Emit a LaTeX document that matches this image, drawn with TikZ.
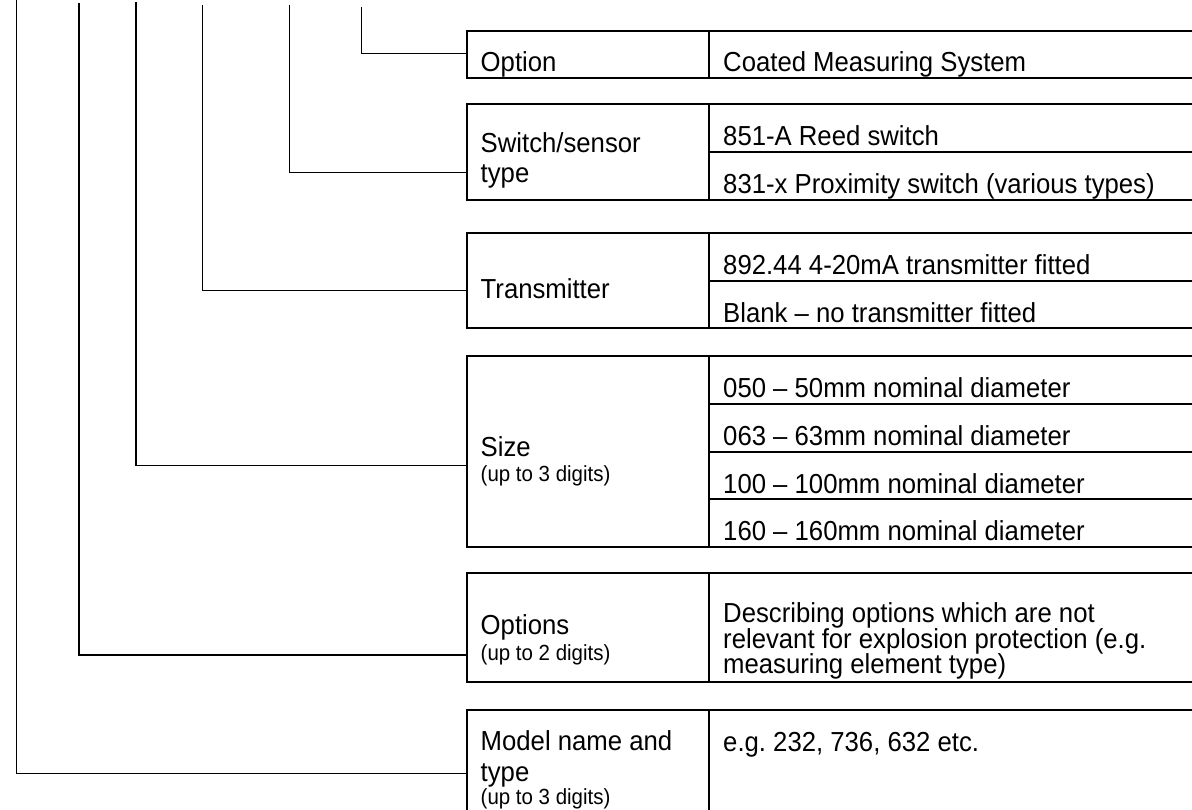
\documentclass[tikz,border=0pt]{standalone}
\usepackage{fontspec}
\setmainfont[FakeStretch=0.935]{Liberation Sans}
\frenchspacing
\begin{document}
\begin{tikzpicture}[x=1pt,y=-1pt,
  cell/.style={draw, line width=2pt, rectangle, inner sep=0pt, outer sep=0pt, anchor=north west},
  conn/.style={line width=1.5pt},
  lbl/.style={anchor=base west, inner sep=0pt, font=\fontsize{27.5}{30}\selectfont},
  sml/.style={anchor=base west, inner sep=0pt, font=\fontsize{21.9}{24}\selectfont}]
\useasboundingbox (0,0) rectangle (1192,810);
\clip (0,0) rectangle (1192,810);

% ---- Option box
\node[cell, minimum width=242.3pt, minimum height=47pt] (optL) at (466.7,30.7) {};
\node[cell, minimum width=560pt, minimum height=47pt] (optR) at (709,30.7) {};
\node[lbl] (optT) at (480.5,71.5) {Option};
\node[lbl] (optV) at (723,71.5) {Coated Measuring System};

% ---- Switch/sensor box
\node[cell, minimum width=242.3pt, minimum height=96pt] (swL) at (466.7,104) {};
\node[cell, minimum width=560pt, minimum height=47.7pt] (swR1) at (709,104) {};
\node[cell, minimum width=560pt, minimum height=48.3pt] (swR2) at (709,151.7) {};
\node[lbl] (swT1) at (480.5,153) {Switch/sensor};
\node[lbl] (swT2) at (480.5,183) {type};
\node[lbl] (swV1) at (723,145.5) {851-A Reed switch};
\node[lbl] (swV2) at (723,193.5) {831-x Proximity switch (various types)};

% ---- Transmitter box
\node[cell, minimum width=242.3pt, minimum height=95pt] (trL) at (466.7,233.3) {};
\node[cell, minimum width=560pt, minimum height=47.4pt] (trR1) at (709,233.3) {};
\node[cell, minimum width=560pt, minimum height=47.6pt] (trR2) at (709,280.7) {};
\node[lbl] (trT) at (480.5,299) {Transmitter};
\node[lbl] (trV1) at (723,274.8) {892.44 4-20mA transmitter fitted};
\node[lbl] (trV2) at (723,322.2) {Blank -- no transmitter fitted};

% ---- Size box
\node[cell, minimum width=242.3pt, minimum height=191.6pt] (szL) at (466.7,355.7) {};
\node[cell, minimum width=560pt, minimum height=48pt] (szR1) at (709,355.7) {};
\node[cell, minimum width=560pt, minimum height=48pt] (szR2) at (709,403.7) {};
\node[cell, minimum width=560pt, minimum height=47.6pt] (szR3) at (709,451.7) {};
\node[cell, minimum width=560pt, minimum height=48pt] (szR4) at (709,499.3) {};
\node[lbl] (szT1) at (480.5,456.7) {Size};
\node[sml] (szT2) at (480.5,481.7) {(up to 3 digits)};
\node[lbl] (szV1) at (723,397.2) {050 -- 50mm nominal diameter};
\node[lbl] (szV2) at (723,445.2) {063 -- 63mm nominal diameter};
\node[lbl] (szV3) at (723,493.2) {100 -- 100mm nominal diameter};
\node[lbl] (szV4) at (723,540.8) {160 -- 160mm nominal diameter};

% ---- Options box
\node[cell, minimum width=242.3pt, minimum height=109pt] (opL) at (466.7,573.3) {};
\node[cell, minimum width=560pt, minimum height=109pt] (opR) at (709,573.3) {};
\node[lbl] (opT1) at (480.5,634) {Options};
\node[sml] (opT2) at (480.5,660.5) {(up to 2 digits)};
\node[lbl] (opV1) at (723,622.5) {Describing options which are not};
\node[lbl] (opV2) at (723,648) {relevant for explosion protection (e.g.};
\node[lbl] (opV3) at (723,673.5) {measuring element type)};

% ---- Model box
\node[cell, minimum width=242.3pt, minimum height=130pt] (mdL) at (466.7,710) {};
\node[cell, minimum width=560pt, minimum height=130pt] (mdR) at (709,710) {};
\node[lbl] (mdT1) at (480.5,750.7) {Model name and};
\node[lbl] (mdT2) at (480.5,781.5) {type};
\node[sml] (mdT3) at (480.5,804) {(up to 3 digits)};
\node[lbl] (mdV) at (723,751) {e.g. 232, 736, 632 etc.};

% ---- connectors
\coordinate (top1) at (361.7,7.3);  \coordinate (bend1) at (361.7,53.5);
\coordinate (top2) at (289.3,5);    \coordinate (bend2) at (289.3,172.7);
\coordinate (top3) at (202.7,5);    \coordinate (bend3) at (202.7,290.7);
\coordinate (top4) at (136,1.7);    \coordinate (bend4) at (136,465.7);
\coordinate (top5) at (79,3.3);     \coordinate (bend5) at (79,655);
\coordinate (top6) at (16.7,-2);    \coordinate (bend6) at (16.7,773.3);
\draw[conn] (top1) -- (bend1) -- (bend1 -| optL.west);
\draw[conn] (top2) -- (bend2) -- (bend2 -| swL.west);
\draw[conn] (top3) -- (bend3) -- (bend3 -| trL.west);
\draw[conn] (top4) -- (bend4) -- (bend4 -| szL.west);
\draw[conn] (top5) -- (bend5) -- (bend5 -| opL.west);
\draw[conn] (top6) -- (bend6) -- (bend6 -| mdL.west);
\end{tikzpicture}
\end{document}
